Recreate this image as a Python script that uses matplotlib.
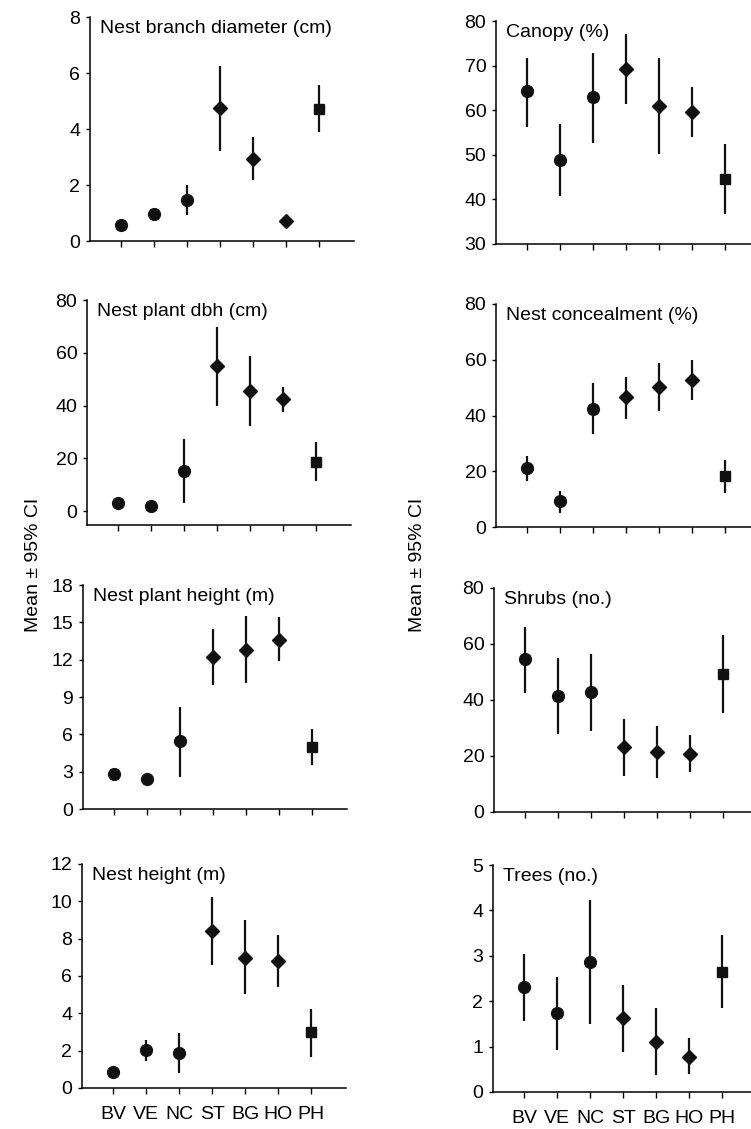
import numpy as np
import matplotlib
matplotlib.use("Agg")
import matplotlib.pyplot as plt

plt.rcParams['font.family'] = ['Liberation Sans', 'DejaVu Sans']

sites = ["BV", "VE", "NC", "ST", "BG", "HO", "PH"]
markers = ["o", "o", "o", "D", "D", "D", "s"]

# mean, upper and lower 95% CI for each panel
branch_mean = [0.58, 0.95, 1.45, 4.75, 2.94, 0.71, 4.73]
branch_hi = [0.62, 1.15, 2.0, 6.25, 3.71, 0.75, 5.56]
branch_lo = [0.54, 0.74, 0.92, 3.2, 2.17, 0.67, 3.9]

canopy_mean = [64.2, 48.9, 62.9, 69.2, 60.9, 59.5, 44.6]
canopy_hi = [71.6, 56.8, 72.9, 77.0, 71.8, 65.2, 52.4]
canopy_lo = [56.3, 40.7, 52.6, 61.4, 50.2, 54.1, 36.7]

dbh_mean = [3.2, 2.0, 15.2, 55.0, 45.5, 42.4, 18.7]
dbh_hi = [3.6, 2.3, 27.2, 69.9, 58.8, 46.9, 26.0]
dbh_lo = [2.8, 1.7, 3.2, 39.8, 32.2, 37.7, 11.5]

conceal_mean = [21.2, 9.2, 42.5, 46.5, 50.3, 52.9, 18.2]
conceal_hi = [25.5, 12.8, 51.5, 53.7, 58.7, 59.9, 24.2]
conceal_lo = [16.4, 5.1, 33.3, 38.6, 41.7, 45.5, 12.3]

plant_h_mean = [2.8, 2.4, 5.43, 12.25, 12.8, 13.6, 4.95]
plant_h_hi = [3.15, 2.6, 8.2, 14.5, 15.5, 15.45, 6.44]
plant_h_lo = [2.35, 2.2, 2.6, 10.0, 10.1, 11.9, 3.5]

shrub_mean = [54.6, 41.5, 42.9, 23.1, 21.4, 20.7, 49.4]
shrub_hi = [66.1, 55.0, 56.4, 33.3, 30.6, 27.6, 63.1]
shrub_lo = [42.5, 28.0, 29.0, 12.7, 12.1, 14.3, 35.4]

nest_h_mean = [0.86, 2.01, 1.87, 8.41, 6.99, 6.81, 2.98]
nest_h_hi = [0.95, 2.58, 2.94, 10.21, 9.0, 8.2, 4.22]
nest_h_lo = [0.78, 1.43, 0.8, 6.6, 5.03, 5.4, 1.66]

tree_mean = [2.32, 1.73, 2.87, 1.62, 1.10, 0.77, 2.65]
tree_hi = [3.04, 2.54, 4.24, 2.35, 1.85, 1.18, 3.46]
tree_lo = [1.56, 0.93, 1.49, 0.88, 0.37, 0.40, 1.84]

panels = [
    ("Nest branch diameter (cm)", branch_mean, branch_lo, branch_hi, (0, 8), [0, 2, 4, 6, 8]),
    ("Canopy (%)", canopy_mean, canopy_lo, canopy_hi, (30, 80), [30, 40, 50, 60, 70, 80]),
    ("Nest plant dbh (cm)", dbh_mean, dbh_lo, dbh_hi, (-5.3, 80), [0, 20, 40, 60, 80]),
    ("Nest concealment (%)", conceal_mean, conceal_lo, conceal_hi, (0, 80), [0, 20, 40, 60, 80]),
    ("Nest plant height (m)", plant_h_mean, plant_h_lo, plant_h_hi, (0, 18), [0, 3, 6, 9, 12, 15, 18]),
    ("Shrubs (no.)", shrub_mean, shrub_lo, shrub_hi, (0, 80), [0, 20, 40, 60, 80]),
    ("Nest height (m)", nest_h_mean, nest_h_lo, nest_h_hi, (0, 12), [0, 2, 4, 6, 8, 10, 12]),
    ("Trees (no.)", tree_mean, tree_lo, tree_hi, (0, 5), [0, 1, 2, 3, 4, 5]),
]

W, H = 751, 1129
# pixel boxes: left spine x, right end x, top y, bottom y
boxes = [
    (90, 354, 17, 241), (496, 751, 21, 244),
    (87, 351, 300, 525), (496, 751, 304, 527),
    (83, 347, 585, 809), (494, 751, 588, 812),
    (82, 346, 864, 1088), (493, 751, 865, 1092),
]

fig = plt.figure(figsize=(W / 100, H / 100), dpi=100)

for i, (title, mean, lo, hi, ylim, yticks) in enumerate(panels):
    x0, x1, y0, y1 = boxes[i]
    ax = fig.add_axes([x0 / W, 1 - y1 / H, (x1 - x0) / W, (y1 - y0) / H])
    width_units = (x1 - x0) / 33.0
    ax.set_xlim(-0.95, -0.95 + width_units)
    ax.set_ylim(*ylim)
    for j in range(len(sites)):
        ax.plot([j, j], [lo[j], hi[j]], color="#111111", lw=1.6, solid_capstyle="butt")
        ms = 8.5 if markers[j] == "o" else (6.8 if markers[j] == "D" else 7.8)
        ax.plot(j, mean[j], marker=markers[j], ms=ms, color="#111111", mec="#111111")
    ax.set_yticks(yticks)
    ax.set_xticks(range(len(sites)))
    if i >= 6:
        ax.set_xticklabels(sites, fontsize=14)
    else:
        ax.set_xticklabels([])
    ax.tick_params(axis="y", labelsize=14, length=3, width=1, pad=4)
    ax.tick_params(axis="x", length=4, width=1, pad=9)
    ax.spines["top"].set_visible(False)
    ax.spines["right"].set_visible(False)
    ax.spines["left"].set_linewidth(1.1)
    ax.spines["bottom"].set_linewidth(1.1)
    ax.text(10 / (x1 - x0), 0.985, title, transform=ax.transAxes,
            fontsize=14, va="top", ha="left")

fig.text(33 / W, 1 - 565 / H, "Mean ± 95% CI", rotation=90, fontsize=14,
         ha="center", va="center")
fig.text(418 / W, 1 - 565 / H, "Mean ± 95% CI", rotation=90, fontsize=14,
         ha="center", va="center")

fig.savefig("out.png", dpi=100)
